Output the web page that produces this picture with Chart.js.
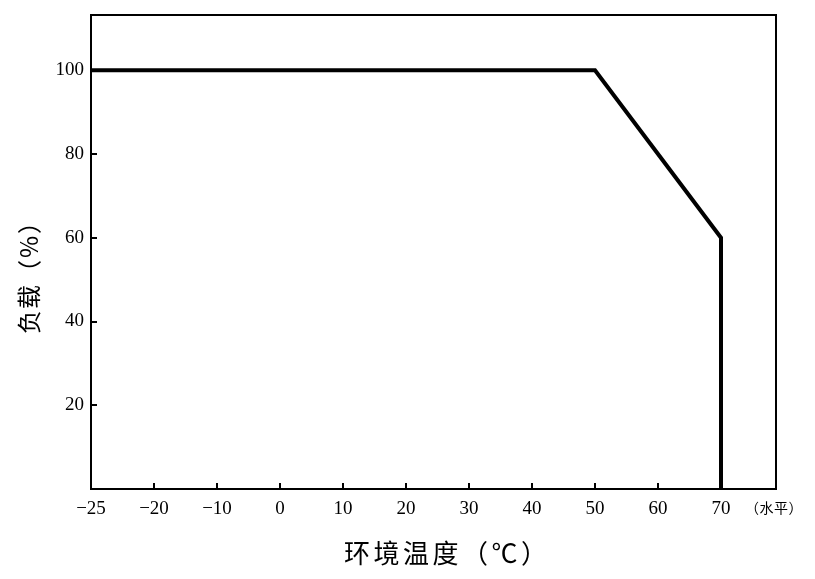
<!DOCTYPE html>
<html>
<head>
<meta charset="utf-8">
<script src="https://cdn.jsdelivr.net/npm/chart.js@4/dist/chart.umd.min.js"></script>
<style>
  html, body { margin: 0; padding: 0; background: #fff; }
  #wrap { width: 815px; height: 579px; position: relative; }
</style>
</head>
<body>
<div id="wrap"><canvas id="c" width="815" height="579"></canvas></div>
<script>
// ---- data ----
// The left frame edge carries the label "−25" although it sits one 10-step left of −20.
const xTickValues = [-30, -20, -10, 0, 10, 20, 30, 40, 50, 60, 70];
const xTickLabels = ['−25', '−20', '−10', '0', '10', '20', '30', '40', '50', '60', '70'];
const yTickValues = [20, 40, 60, 80, 100];
const tempPoints = [-30, 50, 70, 70];   // ambient temperature (°C), axis units
const loadPoints = [100, 100, 60, 0];    // load (%)
const xTitle = '环境温度（℃）';
const yTitle = '负载（%）';
const xNote = '（水平）';

const numFont = '"Liberation Serif", "DejaVu Serif", serif';
const cjkFont = '"Noto Sans CJK SC", "Noto Sans CJK JP", sans-serif';

function drawSpaced(ctx, text, startCenter, pitch) {
  [...text].forEach((ch, i) => ctx.fillText(ch, startCenter + i * pitch, 0));
}

const innerTicks = {
  id: 'innerTicks',
  afterDatasetsDraw(chart) {
    const { ctx, chartArea: a, scales: { x, y } } = chart;
    ctx.save();
    ctx.strokeStyle = '#000';
    ctx.lineWidth = 2;
    ctx.beginPath();
    xTickValues.slice(1).forEach(v => {
      const px = Math.round(x.getPixelForValue(v));
      ctx.moveTo(px, a.bottom);
      ctx.lineTo(px, a.bottom - 6);
    });
    yTickValues.forEach(v => {
      const py = Math.round(y.getPixelForValue(v));
      ctx.moveTo(a.left, py);
      ctx.lineTo(a.left + 6, py);
    });
    ctx.stroke();
    ctx.strokeRect(a.left, a.top, a.right - a.left, a.bottom - a.top);
    // titles
    ctx.fillStyle = '#000';
    ctx.textAlign = 'center';
    ctx.textBaseline = 'middle';
    ctx.font = '26px ' + cjkFont;
    ctx.save();
    ctx.translate(0, 553);
    drawSpaced(ctx, xTitle, 357, 29.5);
    ctx.restore();
    ctx.font = '24px ' + cjkFont;
    ctx.save();
    ctx.translate(29, 0);
    ctx.rotate(-Math.PI / 2);
    drawSpaced(ctx, yTitle, -322, 25);
    ctx.restore();
    ctx.font = '14px ' + cjkFont;
    ctx.save();
    ctx.translate(0, 508);
    drawSpaced(ctx, xNote, 752, 14.5);
    ctx.restore();
    ctx.restore();
  }
};

new Chart(document.getElementById('c'), {
  type: 'line',
  data: {
    datasets: [{
      data: tempPoints.map((t, i) => ({ x: t, y: loadPoints[i] })),
      borderColor: '#000',
      borderWidth: 4,
      pointRadius: 0,
      tension: 0,
      fill: false,
      borderJoinStyle: 'miter',
      clip: false
    }]
  },
  options: {
    responsive: false,
    animation: false,
    devicePixelRatio: 1,
    layout: { padding: { left: 0, right: 39, top: 15, bottom: 0 } },
    plugins: { legend: { display: false }, tooltip: { enabled: false } },
    scales: {
      x: {
        type: 'linear',
        min: -30,
        max: 78.73,
        afterBuildTicks(s) { s.ticks = xTickValues.map(v => ({ value: v })); },
        afterFit(s) { s.height = 90; s.paddingLeft = 0; s.paddingRight = 0; },
        grid: { display: false, drawTicks: false },
        border: { display: false },
        ticks: {
          autoSkip: false,
          maxRotation: 0,
          padding: 9,
          color: '#000',
          font: { family: numFont, size: 19 },
          callback(v) { const i = xTickValues.indexOf(v); return i >= 0 ? xTickLabels[i] : ''; }
        }
      },
      y: {
        type: 'linear',
        min: 0,
        max: 113.2,
        afterBuildTicks(s) { s.ticks = yTickValues.map(v => ({ value: v })); },
        afterFit(s) { s.width = 91; s.paddingTop = 0; s.paddingBottom = 0; },
        grid: { display: false, drawTicks: false },
        border: { display: false },
        ticks: {
          padding: 7,
          color: '#000',
          font: { family: numFont, size: 19 }
        }
      }
    }
  },
  plugins: [innerTicks]
});
</script>
</body>
</html>
